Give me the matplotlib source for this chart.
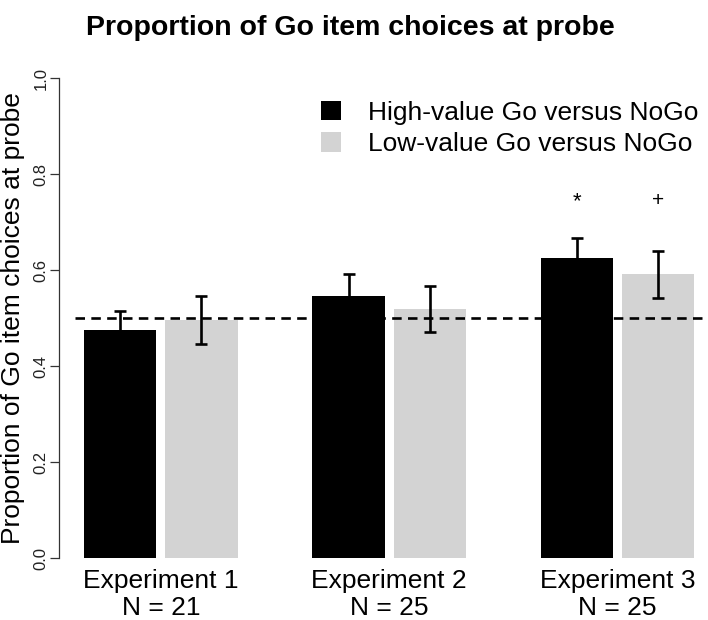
import numpy as np
import matplotlib
matplotlib.use("Agg")
import matplotlib.pyplot as plt
import matplotlib.transforms as mtransforms
from matplotlib.patches import Patch
from matplotlib import font_manager

# ---- data ----
experiments = ["Experiment 1", "Experiment 2", "Experiment 3"]
n_labels = ["N = 21", "N = 25", "N = 25"]
series_names = ["High-value Go versus NoGo", "Low-value Go versus NoGo"]
high_vals = [0.475, 0.545, 0.625]
high_se = [0.040, 0.047, 0.042]
low_vals = [0.496, 0.519, 0.591]
low_se = [0.050, 0.048, 0.049]
sig_labels = ["*", "+"]          # significance marks for Experiment 3
yticks = [0.0, 0.2, 0.4, 0.6, 0.8, 1.0]
ytick_labels = ["0.0", "0.2", "0.4", "0.6", "0.8", "1.0"]
chance = 0.5

plt.rcParams['font.family'] = ['Liberation Sans', 'DejaVu Sans']
names = {f.name for f in font_manager.fontManager.ttflist}
has_narrow = 'Liberation Sans Narrow' in names

W, H = 708, 620
fig = plt.figure(figsize=(W / 100, H / 100), dpi=100)
ax = fig.add_axes([75 / W, (H - 577.2) / H, 633 / W, 518.4 / H])

# geometry (layout)
bw = 1.0
inner = 0.12
pitch = 3.15
g = np.arange(len(experiments))
x_high = 1 + g * pitch
x_low = x_high + bw + inner
centers_high = x_high + bw / 2
centers_low = x_low + bw / 2

black = "#000000"
gray = "#d3d3d3"

ax.bar(x_high, high_vals, width=bw, align='edge', color=black, edgecolor='none', zorder=2)
ax.bar(x_low, low_vals, width=bw, align='edge', color=gray, edgecolor='none', zorder=2)

ekw = dict(fmt='none', ecolor='black', elinewidth=1.9, capsize=4.3, capthick=1.9, zorder=4)
ax.errorbar(centers_high, high_vals, yerr=high_se, **ekw)
ax.errorbar(centers_low, low_vals, yerr=low_se, **ekw)

ax.axhline(chance, color='black', lw=1.9, linestyle=(0, (3.6, 2.4)), zorder=3)

ax.set_xlim(0.876, 9.607)
ax.set_ylim(-0.04, 1.04)

# significance marks above Experiment 3
ax.text(centers_high[2], 0.730, sig_labels[0], ha='center', va='baseline', fontsize=16, zorder=5)
ax.text(centers_low[2], 0.733, sig_labels[1], ha='center', va='baseline', fontsize=15, zorder=5)

# axes styling
for s in ['top', 'right', 'bottom']:
    ax.spines[s].set_visible(False)
ax.spines['left'].set_position(('outward', 11.5))
ax.spines['left'].set_bounds(0, 1)
ax.spines['left'].set_linewidth(0.9)
ax.spines['left'].set_color('#333333')
ax.set_xticks([])
ax.set_yticks(yticks)
ax.set_yticklabels(ytick_labels, rotation=90, va='center', fontsize=12, color='#222222')
ax.tick_params(axis='y', length=6.5, width=0.9, color='#333333', pad=1.0)

# x group labels (two lines)
trans = mtransforms.blended_transform_factory(ax.transData, fig.transFigure)
group_centers = x_high + (2 * bw + inner) / 2
for cx, e, n in zip(group_centers, experiments, n_labels):
    ax.text(cx, (H - 588.3) / H, e, transform=trans, ha='center', va='baseline', fontsize=19)
    ax.text(cx, (H - 615) / H, n, transform=trans, ha='center', va='baseline', fontsize=19)

# y label
fig.text(1 / W, (H - 318) / H, "Proportion of Go item choices at probe", rotation=90,
         ha='left', va='center', fontsize=19)

# title
if has_narrow:
    fig.text(350 / W, (H - 35) / H, "Proportion of Go item choices at probe", ha='center',
             va='baseline', fontsize=24.7, fontweight='bold',
             family=['Liberation Sans Narrow', 'Liberation Sans'])
else:
    fig.text(350 / W, (H - 35) / H, "Proportion of Go item choices at probe", ha='center',
             va='baseline', fontsize=20.5, fontweight='bold')

# legend
handles = [Patch(facecolor=black, edgecolor='none'), Patch(facecolor=gray, edgecolor='none')]
leg = fig.legend(handles, series_names, loc='upper right', bbox_to_anchor=(698 / W, 1 - 101 / H),
                 bbox_transform=fig.transFigure, frameon=False, fontsize=19, handlelength=0.75,
                 handleheight=0.75, handletextpad=1.0, labelspacing=0.27, borderpad=0,
                 borderaxespad=0)

fig.savefig("out.png", dpi=100)
